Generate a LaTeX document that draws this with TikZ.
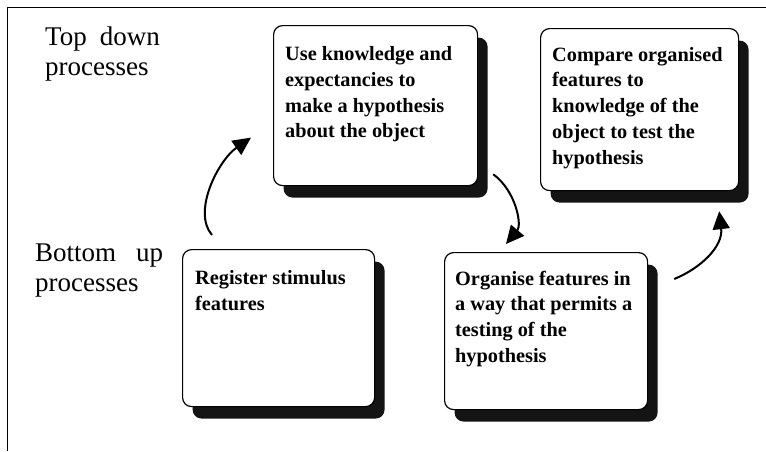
\documentclass[tikz,border=0pt]{standalone}
\usepackage{fontspec}
\setmainfont{Liberation Serif}
\usetikzlibrary{shadows,arrows.meta,calc}
\begin{document}
\begin{tikzpicture}[x=1pt,y=-1pt,
  card/.style={draw, line width=1.2pt, rounded corners=9pt, fill=white,
    general shadow={fill=black!92, shadow xshift=10pt, shadow yshift=-12pt},
    anchor=north west, inner sep=0pt},
  cardtext/.style={anchor=north west, align=left, inner sep=0pt,
    font=\bfseries\fontsize{20.3}{25.7}\selectfont},
  sidelabel/.style={anchor=north west, align=left, inner sep=0pt,
    font=\fontsize{27}{30}\selectfont},
  flow/.style={line width=2pt, -{Triangle[length=18pt,width=17pt]}}
]
\useasboundingbox (0,0) rectangle (766,451);
% frame
\draw[line width=1.4pt] (766,7.3) -- (7.3,7.3) -- (7.3,451);

% side labels
\node[sidelabel] (td) at (45,26.5) {Top\hspace{13pt}down\\processes};
\node[sidelabel] (bu) at (35,243.5) {Bottom\hspace{20pt}up\\processes};

% boxes
\node[card, minimum width=204pt, minimum height=160pt] (b1) at (273,25) {};
\node[card, minimum width=198pt, minimum height=162pt] (b2) at (540,28) {};
\node[card, minimum width=192pt, minimum height=157pt] (b3) at (182,249) {};
\node[card, minimum width=203pt, minimum height=157pt] (b4) at (444,252) {};

% texts
\node[cardtext] (t1) at (285,46.5) {Use knowledge and\\expectancies to\\make a hypothesis\\about the object};
\node[cardtext] (t2) at (552,47) {Compare organised\\features to\\knowledge of the\\object to test the\\hypothesis};
\node[cardtext] (t3) at (195,270.5) {Register stimulus\\features};
\node[cardtext] (t4) at (455,270.5) {Organise features in\\a way that permits a\\testing of the\\hypothesis};

% arrows
\draw[flow] ([xshift=30pt,yshift=14pt]b3.north west)
  .. controls +(-20,-23) and +(-33,23) .. ([xshift=-22pt,yshift=-32pt]b1.west);
\draw[flow] ([xshift=15pt,yshift=12pt]b1.south east)
  .. controls +(23,17) and +(16,-19) .. ([xshift=62pt,yshift=8pt]b4.north west);
\draw[flow] ([xshift=26pt,yshift=-27pt]b4.north east)
  .. controls +(27,-11) and +(4,35) .. ([xshift=-20pt,yshift=-20pt]b2.south east);
\end{tikzpicture}
\end{document}
